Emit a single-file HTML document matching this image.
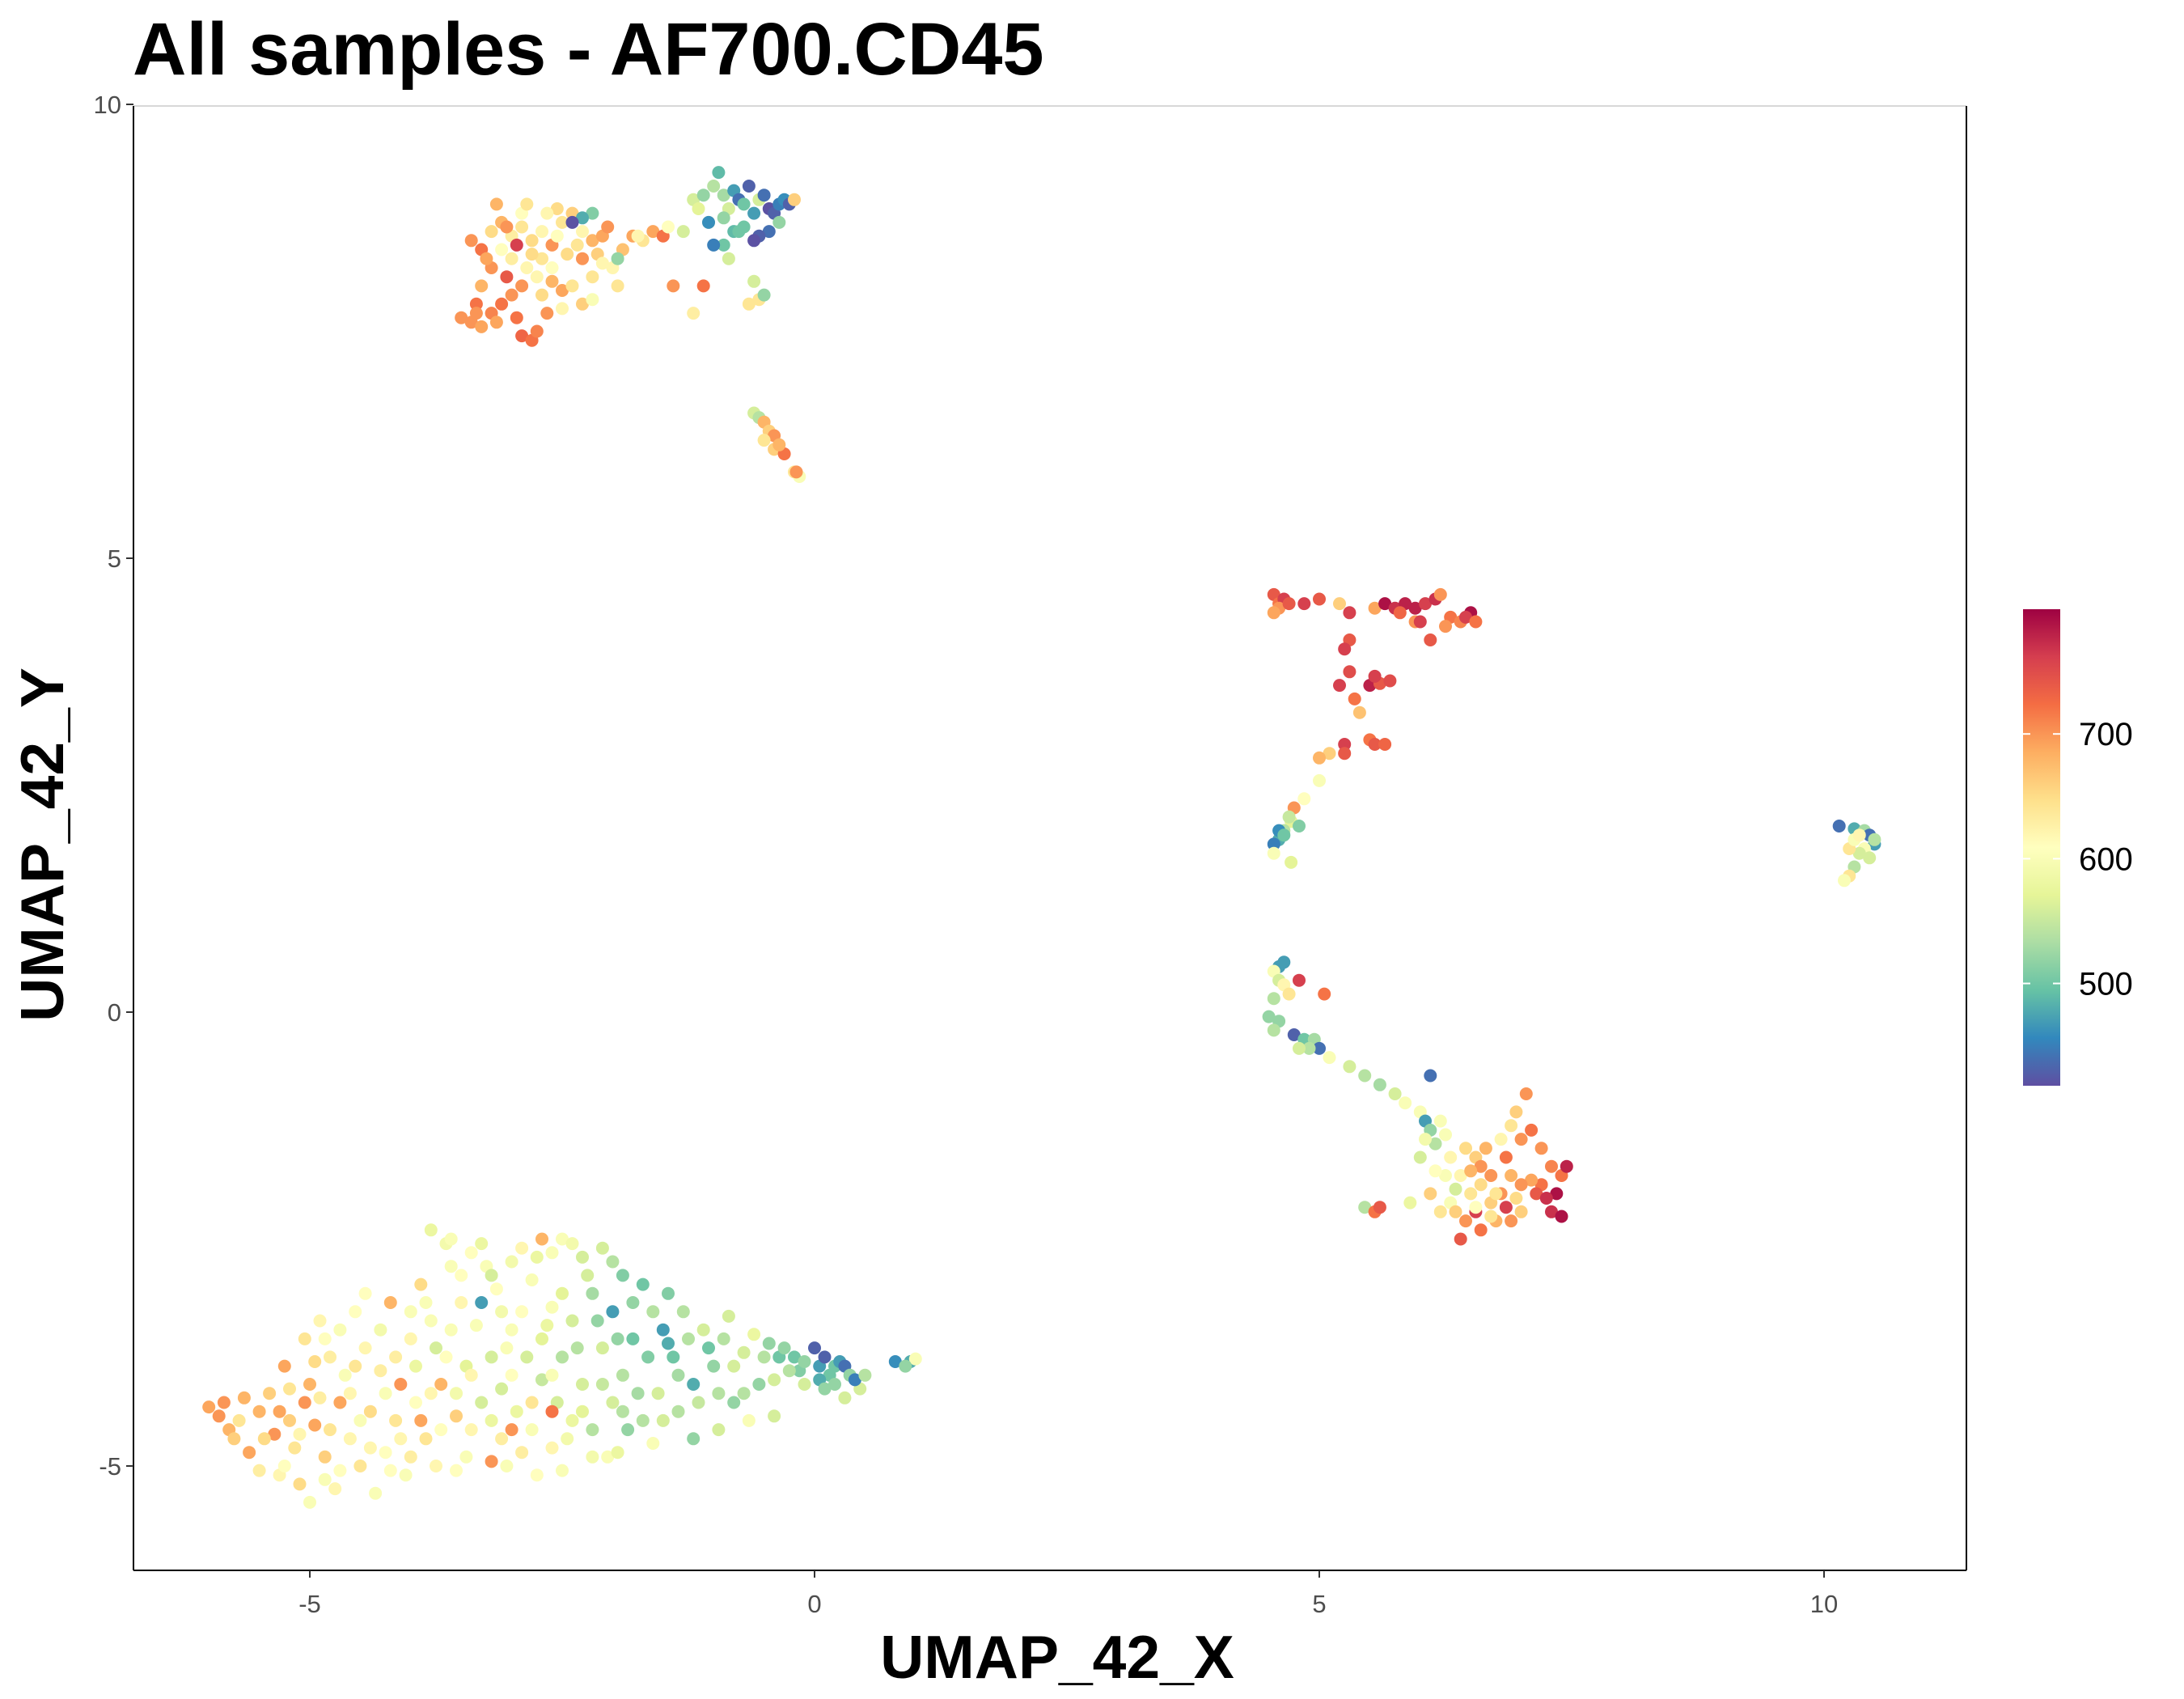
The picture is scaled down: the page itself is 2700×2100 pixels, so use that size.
<!DOCTYPE html>
<html><head><meta charset="utf-8"><style>
html,body{margin:0;padding:0;background:#fff;}
svg{display:block;font-family:"Liberation Sans",Arial,sans-serif;}
</style></head><body>
<svg id="chart" width="2700" height="2100" viewBox="0 0 2700 2100" xmlns="http://www.w3.org/2000/svg">
<rect x="0" y="0" width="2700" height="2100" fill="#fff"/>
<text x="164" y="92" font-size="92" font-weight="bold" fill="#000">All samples - AF700.CD45</text>
<g id="points"></g>
<g id="axes"></g>
<text x="1307" y="2074" font-size="75" font-weight="bold" text-anchor="middle" fill="#000">UMAP_42_X</text>
<text transform="translate(78,1044) rotate(-90)" font-size="75" font-weight="bold" text-anchor="middle" fill="#000">UMAP_42_Y</text>
<g id="legend"></g>
</svg>
<script>
const xTicks=[-5,0,5,10];
const yTicks=[-5,0,5,10];
const legendTicks=[500,600,700];
const valueMin=418, valueMax=800;
const spectral=["#5E4FA2","#3288BD","#66C2A5","#ABDDA4","#E6F598","#FFFFBF","#FEE08B","#FDAE61","#F46D43","#D53E4F","#9E0142"];
const clusterTopLeft=[[-3.4,7.6,700],[-3.3,7.55,690],[-3.2,7.7,710],[-3.1,7.8,720],[-2.9,7.45,730],[-2.8,7.4,720],[-2.75,7.5,710],[-3.0,7.9,700],[-3.3,8.0,680],[-3.2,8.2,700],[-3.05,8.1,740],[-2.9,8.0,700],[-2.7,7.9,650],[-2.6,8.05,680],[-2.5,7.95,690],[-2.4,8.0,640],[-2.3,7.8,660],[-2.2,8.1,640],[-2.0,8.2,620],[-1.95,8.0,640],[-3.4,8.5,700],[-3.3,8.4,720],[-3.2,8.6,650],[-3.1,8.7,680],[-3.0,8.55,630],[-2.9,8.65,640],[-2.8,8.5,650],[-2.7,8.6,620],[-2.6,8.45,700],[-2.5,8.7,640],[-2.4,8.8,660],[-2.3,8.6,620],[-2.2,8.5,680],[-2.1,8.55,690],[-1.9,8.4,670],[-1.8,8.55,690],[-3.0,8.3,630],[-2.85,8.2,620],[-2.7,8.3,640],[-2.6,8.2,610],[-2.45,8.35,650],[-2.3,8.3,700],[-2.15,8.35,660],[-3.1,8.4,610],[-2.95,8.45,760],[-2.55,8.85,650],[-2.65,8.8,620],[-3.15,8.9,680],[-2.9,8.8,610],[-2.5,7.75,620],[-2.2,7.85,600],[-3.5,7.65,700],[-3.35,7.8,720],[-2.2,8.8,510],[-2.3,8.75,480],[-2.4,8.7,420],[-1.95,8.3,520],[-2.8,8.35,650],[-1.6,8.6,690],[-1.5,8.55,720],[-1.7,8.5,640],[-1.45,8.65,610],[-1.3,8.6,560],[-1.4,8.0,700],[-1.1,8.0,720],[-1.2,7.7,630],[-1.05,8.7,580],[-1.75,8.55,620],[-3.25,8.3,690],[-3.35,7.7,700],[-3.15,7.6,690],[-2.95,7.65,720],[-2.65,7.7,700],[-2.75,8.1,620],[-2.55,8.55,610],[-2.35,8.45,640],[-3.05,8.65,700],[-2.85,8.9,640],[-2.1,8.25,620],[-2.05,8.65,700]];
const clusterTopRight=[[-1.2,8.95,560],[-1.1,9.0,520],[-1.0,9.1,540],[-0.95,9.25,490],[-0.9,9.0,530],[-0.85,8.85,560],[-0.8,9.05,470],[-0.75,8.95,440],[-0.7,8.9,500],[-0.65,9.1,430],[-0.6,8.8,470],[-0.55,8.95,560],[-0.5,9.0,440],[-0.45,8.85,420],[-0.4,8.8,430],[-0.35,8.9,450],[-0.3,8.95,460],[-0.25,8.9,430],[-0.2,8.95,660],[-0.35,8.7,520],[-0.45,8.6,440],[-0.55,8.55,430],[-0.6,8.5,420],[-0.7,8.65,500],[-0.8,8.6,490],[-0.9,8.45,500],[-1.0,8.45,450],[-1.05,8.7,460],[-0.85,8.3,560],[-0.6,8.05,560],[-0.55,7.85,640],[-0.65,7.8,640],[-0.5,7.9,520],[-0.75,8.6,500],[-1.15,8.85,570],[-0.9,8.75,520]];
const clusterStreak=[[-0.6,6.6,560],[-0.55,6.55,540],[-0.5,6.5,680],[-0.45,6.4,660],[-0.4,6.35,700],[-0.5,6.3,640],[-0.4,6.2,660],[-0.3,6.15,720],[-0.35,6.25,680],[-0.2,5.95,640],[-0.15,5.9,600],[-0.18,5.95,700]];
const clusterF=[[4.55,4.6,740],[4.6,4.5,720],[4.65,4.55,760],[4.6,4.45,700],[4.7,4.5,740],[4.55,4.4,690],[4.85,4.5,760],[5.0,4.55,740],[5.2,4.5,660],[5.3,4.4,760],[5.55,4.45,690],[5.65,4.5,790],[5.75,4.45,770],[5.85,4.5,780],[5.95,4.45,780],[6.05,4.5,760],[6.15,4.55,770],[6.2,4.6,700],[6.3,4.35,720],[6.4,4.3,710],[6.5,4.4,790],[6.45,4.35,760],[6.55,4.3,720],[6.25,4.25,700],[5.95,4.3,700],[5.8,4.4,730],[6.1,4.1,740],[6.0,4.3,760],[5.3,4.1,740],[5.25,4.0,760],[5.3,3.75,750],[5.2,3.6,760],[5.5,3.6,780],[5.6,3.62,740],[5.7,3.65,750],[5.55,3.7,760],[5.35,3.45,720],[5.4,3.3,670],[5.5,3.0,720],[5.55,2.95,740],[5.65,2.95,730],[5.25,2.95,760],[5.25,2.85,740],[5.1,2.85,660],[5.0,2.8,680],[5.0,2.55,600],[4.85,2.35,610],[4.75,2.25,700],[4.72,2.1,570],[4.65,2.0,540],[4.6,1.9,480],[4.55,1.85,450],[4.6,2.0,460],[4.8,2.05,510],[4.72,1.65,570],[4.55,1.75,600],[4.65,1.95,500],[4.7,2.15,550]];
const clusterFarRight=[[10.15,2.05,440],[10.3,2.02,480],[10.4,2.0,530],[10.45,1.95,440],[10.5,1.85,470],[10.4,1.8,600],[10.35,1.75,560],[10.25,1.8,640],[10.3,1.9,600],[10.45,1.7,560],[10.3,1.6,540],[10.25,1.5,640],[10.2,1.45,600],[10.5,1.9,540],[10.35,1.95,620]];
const clusterDiagonal=[[4.6,0.5,470],[4.65,0.55,470],[4.55,0.45,600],[4.6,0.35,560],[4.65,0.3,620],[4.7,0.2,640],[4.8,0.35,760],[4.55,0.15,540],[5.05,0.2,720],[4.5,-0.05,520],[4.6,-0.1,520],[4.55,-0.2,540],[4.75,-0.25,430],[4.85,-0.3,500],[4.95,-0.3,530],[5.0,-0.4,440],[4.9,-0.4,540],[4.8,-0.4,560],[5.1,-0.5,600],[5.3,-0.6,560],[5.45,-0.7,540],[5.6,-0.8,530],[5.75,-0.9,560],[5.85,-1.0,600],[6.0,-1.1,600],[6.1,-0.7,440],[6.05,-1.2,470],[6.1,-1.3,520],[6.2,-1.2,600],[6.15,-1.45,540],[6.3,-1.6,620],[6.0,-1.6,560],[6.05,-1.4,590],[6.25,-1.8,600],[6.45,-1.5,650],[6.55,-1.6,660],[6.65,-1.5,680],[6.8,-1.4,620],[6.9,-1.25,640],[7.0,-1.4,700],[7.1,-1.3,720],[7.2,-1.5,700],[7.3,-1.7,710],[7.4,-1.8,720],[7.45,-1.7,780],[7.35,-2.0,790],[7.3,-2.2,770],[7.4,-2.25,790],[7.2,-1.9,720],[7.1,-1.85,690],[7.0,-1.9,700],[6.9,-1.8,680],[6.8,-2.0,700],[6.7,-2.1,660],[6.6,-1.9,650],[6.5,-2.0,640],[6.4,-1.8,620],[6.3,-2.1,600],[6.2,-2.2,640],[6.1,-2.0,660],[6.45,-2.3,700],[6.6,-2.4,720],[6.75,-2.3,680],[6.9,-2.3,700],[7.0,-2.2,660],[6.85,-2.15,760],[6.55,-2.2,760],[6.4,-2.5,740],[7.05,-0.9,700],[6.95,-1.1,660],[6.7,-1.8,700],[6.85,-1.6,720],[6.25,-1.35,600],[6.35,-1.95,560],[5.45,-2.15,540],[5.55,-2.2,720],[5.6,-2.15,740],[5.9,-2.1,580],[6.55,-2.15,610],[7.15,-2.0,740],[6.6,-1.7,700],[6.75,-2.0,640],[6.35,-2.2,660],[6.5,-1.75,680],[6.95,-2.05,650],[7.25,-2.05,770],[6.15,-1.75,610],[6.7,-2.25,640]];
const clusterBottomLeft=[[-6.0,-4.35,690],[-5.9,-4.45,700],[-5.8,-4.6,680],[-5.85,-4.3,700],[-5.7,-4.5,640],[-5.75,-4.7,660],[-5.6,-4.85,690],[-5.5,-4.4,680],[-5.5,-5.05,630],[-5.4,-4.2,660],[-5.35,-4.65,700],[-5.3,-5.1,620],[-5.25,-3.9,690],[-5.2,-4.5,660],[-5.15,-4.8,640],[-5.1,-5.2,650],[-5.05,-3.6,640],[-5.0,-4.1,680],[-5.0,-5.4,600],[-4.95,-4.55,690],[-4.9,-3.4,620],[-4.85,-4.9,660],[-4.8,-3.8,630],[-4.75,-5.25,620],[-4.7,-4.3,690],[-4.65,-4.0,600],[-4.6,-4.7,620],[-4.55,-3.3,610],[-4.5,-5.0,640],[-4.45,-3.7,620],[-4.4,-4.4,650],[-4.35,-5.3,600],[-4.3,-3.95,630],[-4.25,-4.85,610],[-4.2,-3.2,680],[-4.15,-4.5,640],[-4.1,-4.1,700],[-4.05,-5.1,600],[-4.0,-3.6,620],[-3.95,-4.3,610],[-3.9,-3.0,650],[-3.85,-4.7,640],[-3.8,-3.4,600],[-3.75,-5.0,620],[-3.7,-4.1,680],[-3.65,-3.8,610],[-3.6,-2.8,600],[-3.55,-4.45,660],[-3.5,-3.2,620],[-3.45,-4.9,600]];
const clusterBottomFill=[[-5.65,-4.25,680],[-5.45,-4.7,650],[-5.3,-4.4,690],[-5.2,-4.15,640],[-5.1,-4.65,620],[-5.25,-5.0,610],[-5.05,-4.3,700],[-4.95,-3.85,650],[-4.9,-4.25,630],[-4.85,-3.6,610],[-4.8,-4.6,640],[-4.7,-3.5,600],[-4.7,-5.05,610],[-4.6,-4.2,620],[-4.55,-3.9,640],[-4.5,-4.5,600],[-4.45,-3.1,610],[-4.4,-4.8,620],[-4.3,-3.5,590],[-4.25,-4.2,600],[-4.2,-5.05,610],[-4.15,-3.8,630],[-4.1,-4.7,620],[-4.0,-3.3,600],[-4.0,-4.9,630],[-3.95,-3.9,580],[-3.9,-4.5,690],[-3.85,-3.2,600],[-3.8,-4.2,620],[-3.75,-3.7,560],[-3.7,-4.6,610],[-3.65,-2.55,590],[-3.6,-3.5,600],[-3.55,-4.2,590],[-3.5,-2.9,610],[-3.45,-3.9,570],[-3.4,-4.6,620],[-3.35,-3.45,600],[-3.3,-4.3,560],[-3.25,-2.8,600],[-3.2,-4.5,580],[-3.15,-3.05,610],[-3.1,-4.15,560],[-3.05,-3.7,600],[-3.0,-2.75,590],[-2.95,-4.4,580],[-2.9,-3.3,610],[-2.85,-3.8,560],[-2.8,-4.6,600],[-2.75,-2.7,580],[-2.7,-4.05,550],[-2.65,-3.45,580],[-2.6,-2.65,600],[-2.55,-4.3,560],[-2.5,-3.1,570],[-2.45,-4.7,590],[-2.35,-3.7,540],[-2.3,-4.4,570],[-2.25,-2.9,560],[-2.2,-4.6,540],[-2.15,-3.4,520],[-2.1,-4.1,550],[-2.05,-4.9,600],[-1.95,-3.6,520],[-1.9,-4.4,540],[-1.8,-3.2,520],[-1.7,-4.5,540],[-1.65,-3.8,510],[-1.55,-4.2,560],[-1.45,-3.65,480],[-1.35,-4.0,530],[-1.25,-3.6,540],[-1.15,-4.3,550],[-1.05,-3.7,500],[-0.95,-4.2,540],[-0.8,-3.9,560],[-0.7,-4.2,540],[-0.55,-4.1,520],[-0.35,-3.8,500],[-0.15,-3.95,510],[0.2,-3.9,500],[0.45,-4.15,560],[-3.55,-5.05,610],[-3.05,-5.0,600],[-2.75,-5.1,610],[-4.85,-5.15,600]];
const clusterBottomMid=[[-3.8,-2.4,580],[-3.6,-2.5,600],[-3.4,-2.65,610],[-3.3,-2.55,580],[-3.2,-2.9,560],[-3.3,-3.2,470],[-3.1,-3.3,590],[-3.0,-3.5,600],[-3.2,-3.8,560],[-3.4,-4.0,620],[-3.0,-4.0,610],[-2.9,-2.6,620],[-2.8,-2.95,600],[-2.7,-2.5,680],[-2.6,-3.25,600],[-2.7,-3.6,570],[-2.8,-4.3,640],[-3.0,-4.6,700],[-3.2,-4.95,700],[-3.1,-4.7,630],[-2.6,-4.0,600],[-2.5,-2.5,600],[-2.4,-2.55,590],[-2.3,-2.7,560],[-2.2,-3.1,530],[-2.4,-3.4,560],[-2.5,-3.8,540],[-2.3,-4.1,560],[-2.4,-4.5,580],[-2.6,-4.8,620],[-2.2,-4.9,590],[-2.5,-5.05,600],[-2.1,-2.6,560],[-2.0,-2.75,540],[-1.9,-2.9,510],[-2.0,-3.3,470],[-1.8,-3.6,500],[-2.1,-3.7,560],[-1.9,-4.0,540],[-2.0,-4.3,560],[-1.85,-4.6,520],[-1.95,-4.85,580],[-1.7,-3.0,500],[-1.6,-3.3,540],[-1.75,-4.2,530],[-1.5,-4.5,560],[-1.6,-4.75,600],[-2.6,-4.4,720],[-2.9,-4.85,630]];
const clusterBottomRight=[[-1.5,-3.5,470],[-1.4,-3.8,500],[-1.3,-3.3,540],[-1.2,-4.1,480],[-1.1,-3.5,560],[-1.0,-3.9,520],[-0.9,-3.6,540],[-0.8,-4.3,520],[-0.7,-3.75,560],[-1.35,-4.4,540],[-0.95,-4.6,560],[-1.2,-4.7,520],[-0.6,-3.55,580],[-0.5,-3.8,540],[-0.45,-3.65,520],[-0.4,-4.05,560],[-0.3,-3.7,520],[-0.25,-3.95,540],[-0.2,-3.8,500],[-0.1,-3.85,520],[0.0,-3.7,430],[0.05,-3.9,470],[0.1,-3.8,430],[0.15,-4.0,500],[0.2,-4.1,520],[0.25,-3.85,470],[0.3,-3.9,440],[0.35,-4.0,520],[0.4,-4.05,450],[0.05,-4.05,480],[0.1,-4.15,520],[0.3,-4.25,560],[0.5,-4.0,540],[-0.1,-4.1,560],[0.8,-3.85,460],[0.95,-3.85,480],[1.0,-3.82,600],[0.9,-3.9,520],[-0.65,-4.5,600],[-0.4,-4.45,560],[-0.85,-3.35,560],[-1.45,-3.1,510]];

const NS="http://www.w3.org/2000/svg";
const PL=165,PR=2431,PT=131,PB=1941;
const X0=1007,XU=124.8,Y0=1251,YU=112.2;
function sx(v){return X0+v*XU;}
function sy(v){return Y0-v*YU;}
function hex2rgb(h){return [parseInt(h.substr(1,2),16),parseInt(h.substr(3,2),16),parseInt(h.substr(5,2),16)];}
function colorFor(v){
  let t=(v-valueMin)/(valueMax-valueMin);t=Math.max(0,Math.min(1,t));
  const p=t*(spectral.length-1);const i=Math.min(Math.floor(p),spectral.length-2);const f=p-i;
  const a=hex2rgb(spectral[i]),b=hex2rgb(spectral[i+1]);
  return "rgb("+a.map((c,k)=>Math.round(c+(b[k]-c)*f)).join(",")+")";
}
function mk(tag,attrs,parent){const e=document.createElementNS(NS,tag);for(const k in attrs)e.setAttribute(k,attrs[k]);parent.appendChild(e);return e;}

const pg=document.getElementById("points");
[clusterTopLeft,clusterTopRight,clusterStreak,clusterF,clusterFarRight,clusterDiagonal,clusterBottomLeft,clusterBottomFill,clusterBottomMid,clusterBottomRight].forEach(cl=>{
  cl.forEach(p=>{
    const c=mk("circle",{cx:sx(p[0]).toFixed(1),cy:sy(p[1]).toFixed(1),r:8,fill:colorFor(p[2])},pg);
    
    
  });
});

const ax=document.getElementById("axes");
const topBorder=mk("line",{x1:PL,y1:PT,x2:PR,y2:PT,stroke:"#cccccc","stroke-width":1.5},ax);


const rightBorder=mk("line",{x1:PR,y1:PT,x2:PR,y2:PB,stroke:"#000","stroke-width":2},ax);


const xAxisLine=mk("line",{x1:PL,y1:PB,x2:PR,y2:PB,stroke:"#000","stroke-width":2},ax);


const yAxisLine=mk("line",{x1:PL,y1:PT,x2:PL,y2:PB,stroke:"#000","stroke-width":2},ax);


xTicks.forEach(v=>{
  const tk=mk("line",{x1:sx(v),y1:PB,x2:sx(v),y2:PB+9,stroke:"#333","stroke-width":2},ax);
  
  
  const t=mk("text",{x:sx(v),y:PB+52,"font-size":31,"text-anchor":"middle",fill:"#4d4d4d"},ax);
  t.textContent=v;
  
  
});
yTicks.forEach(v=>{
  const tk=mk("line",{x1:PL-9,y1:sy(v),x2:PL,y2:sy(v),stroke:"#333","stroke-width":2},ax);
  
  
  const t=mk("text",{x:PL-15,y:sy(v)+11,"font-size":31,"text-anchor":"end",fill:"#4d4d4d"},ax);
  t.textContent=v;
  
  
});

const lg=document.getElementById("legend");
const LB=1342,LT=753,LX=2501,LW=46;
const defs=mk("defs",{},lg);
const grad=mk("linearGradient",{id:"cb",x1:0,y1:1,x2:0,y2:0},defs);
spectral.forEach((c,i)=>{mk("stop",{offset:(i/(spectral.length-1)),"stop-color":c},grad);});
const bar=mk("rect",{x:LX,y:LT,width:LW,height:LB-LT,fill:"url(#cb)"},lg);


function ly(v){return LB-(v-valueMin)/(valueMax-valueMin)*(LB-LT);}
legendTicks.forEach(v=>{
  const a=mk("line",{x1:LX,y1:ly(v),x2:LX+9,y2:ly(v),stroke:"#fff","stroke-width":2},lg);
  
  
  const b=mk("line",{x1:LX+LW-9,y1:ly(v),x2:LX+LW,y2:ly(v),stroke:"#fff","stroke-width":2},lg);
  
  
  const t=mk("text",{x:2570,y:ly(v)+14,"font-size":40,fill:"#000"},lg);
  t.textContent=v;
  
  
});
</script>
</body></html>
